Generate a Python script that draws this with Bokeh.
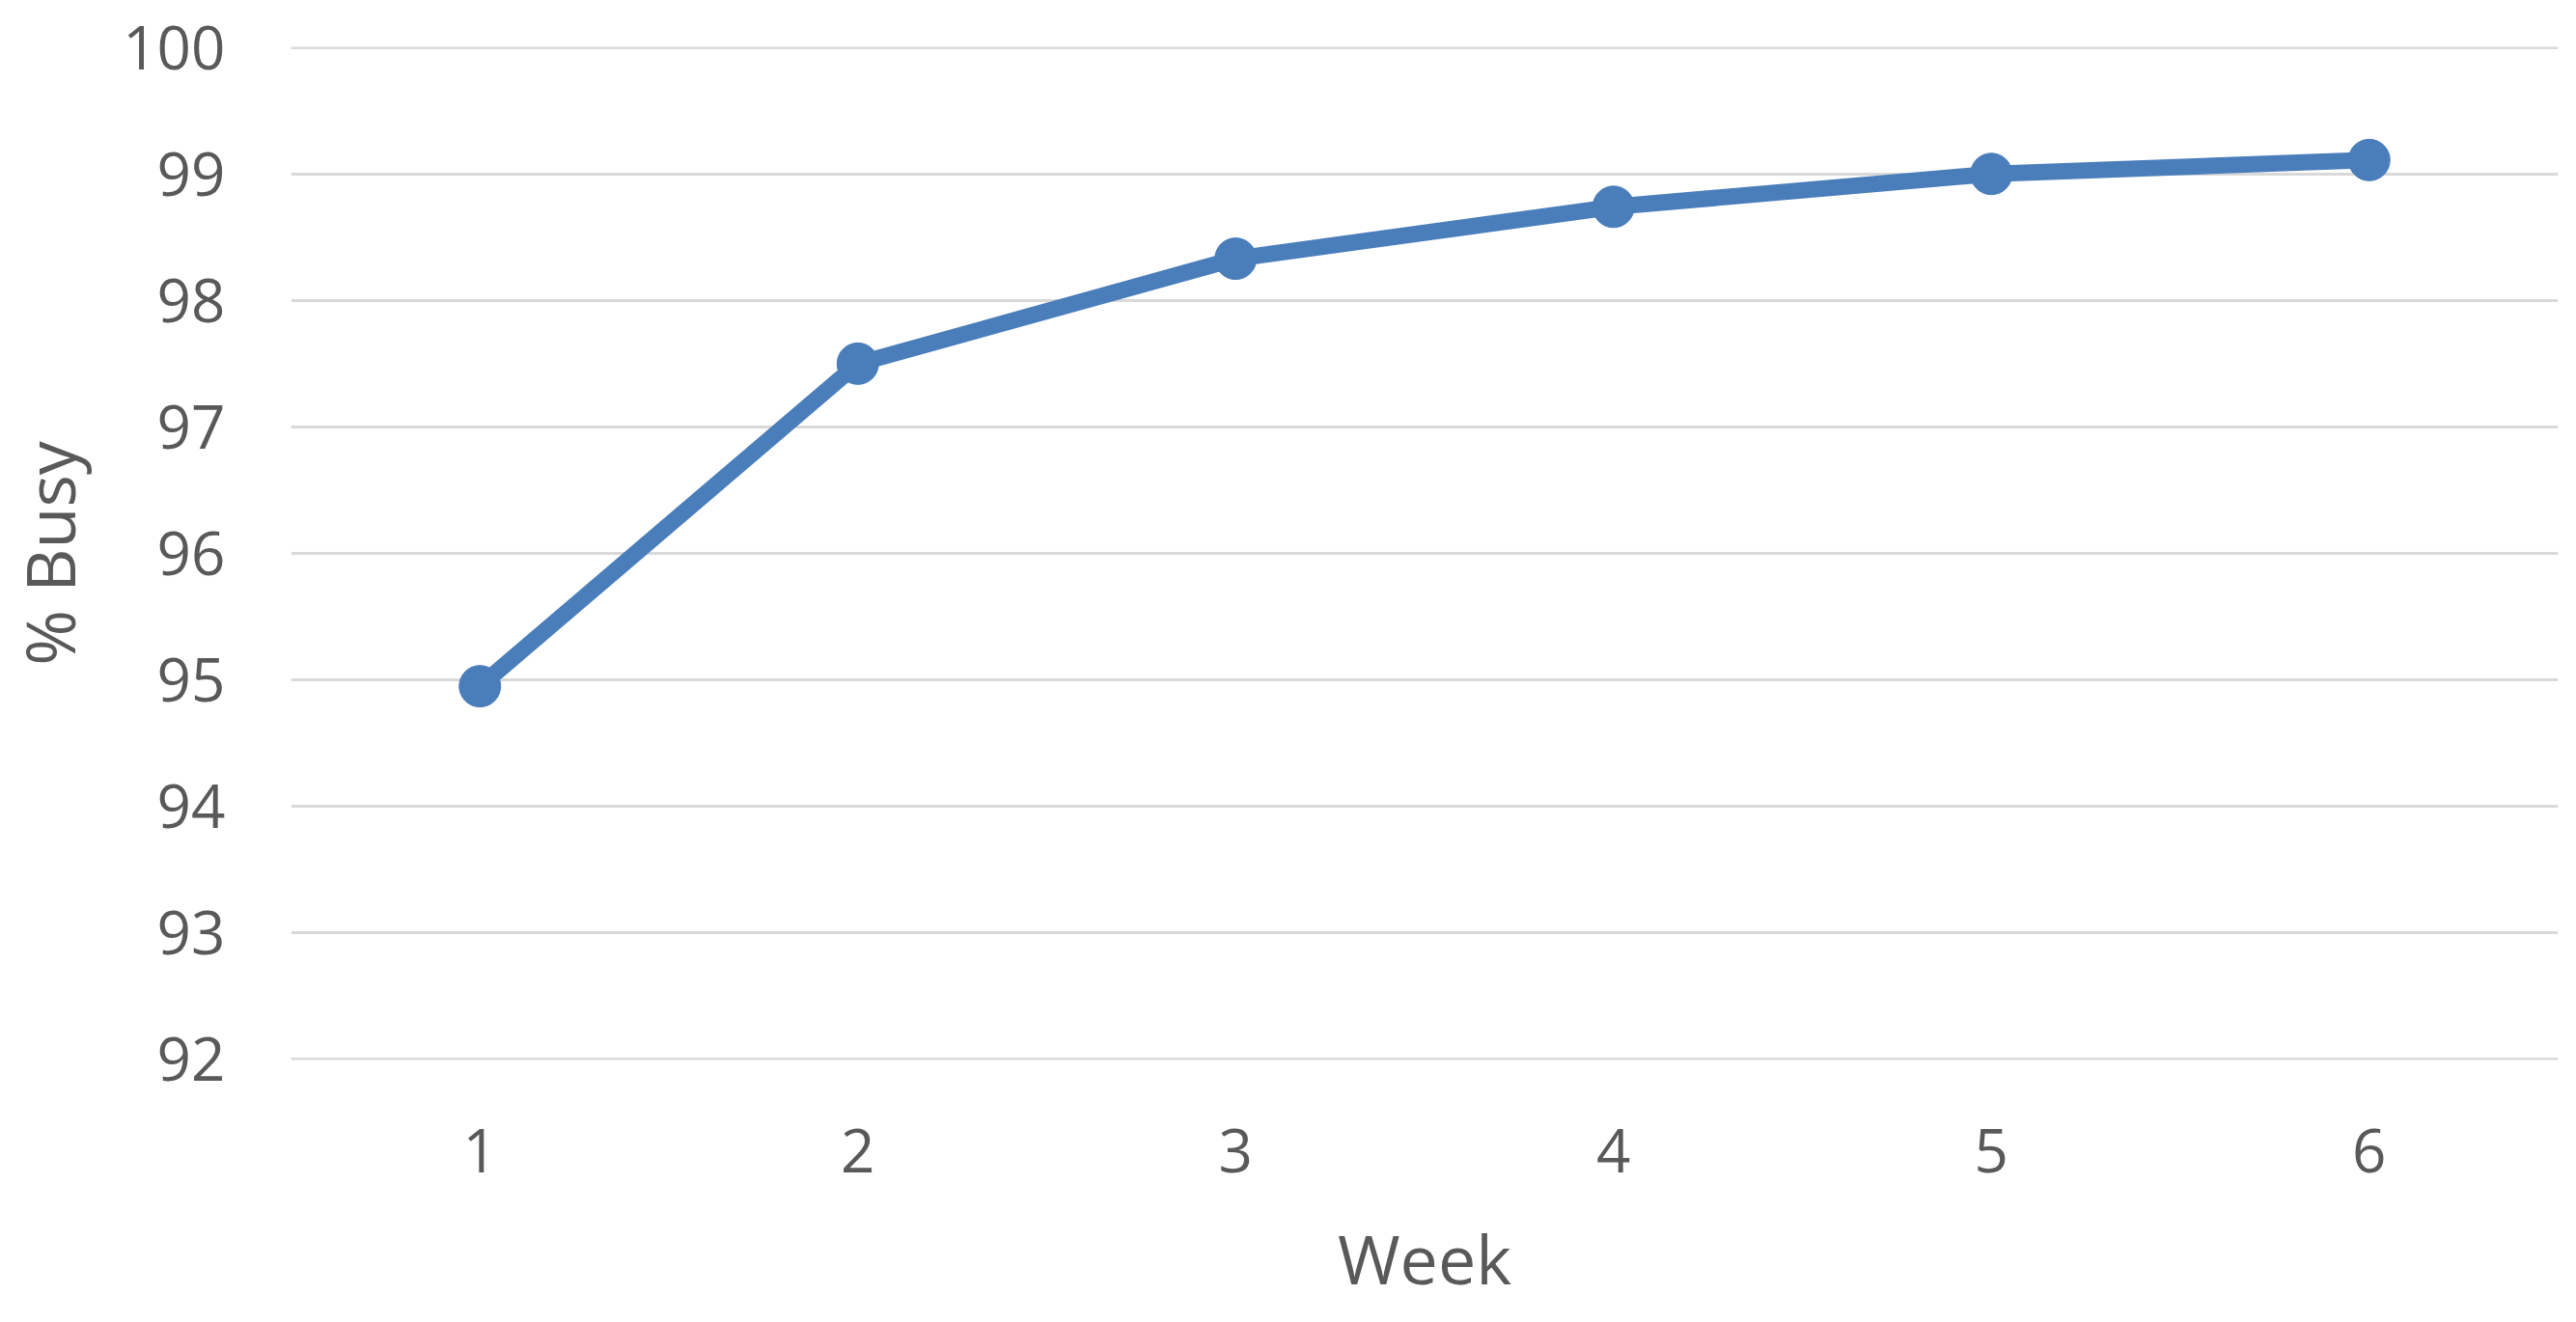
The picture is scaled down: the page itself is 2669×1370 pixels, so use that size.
from bokeh.plotting import figure
from bokeh.models import FixedTicker, Range1d
from bokeh.embed import file_html
from bokeh.resources import INLINE

weeks = [1, 2, 3, 4, 5, 6]
busy = [94.95, 97.5, 98.33, 98.74, 99.0, 99.11]
y_ticks = [92, 93, 94, 95, 96, 97, 98, 99, 100]

LINE = "#4A7EBB"
TXT = "#595959"
FONT = "Open Sans"

p = figure(width=2653, height=1354, output_backend="svg", toolbar_location=None,
           x_range=Range1d(0.5, 6.5), y_range=Range1d(91.995, 100.005),
           min_border_left=301, min_border_right=3, min_border_top=48, min_border_bottom=249)
p.outline_line_color = None
p.background_fill_color = "white"
p.border_fill_color = "white"

p.line(weeks, busy, line_color=LINE, line_width=17, line_join="round")
p.scatter(weeks, busy, size=43, fill_color=LINE, line_color=LINE)

p.xgrid.visible = False
p.ygrid.ticker = FixedTicker(ticks=y_ticks)
p.ygrid.grid_line_color = "#d9d9d9"
p.ygrid.grid_line_width = 3

for ax in (p.xaxis[0], p.yaxis[0]):
    ax.axis_line_color = None
    ax.major_tick_line_color = None
    ax.minor_tick_line_color = None
    ax.major_tick_out = 0
    ax.major_tick_in = 0
    ax.major_label_text_color = TXT
    ax.major_label_text_font = FONT
    ax.major_label_text_font_size = "62px"
    ax.axis_label_text_color = TXT
    ax.axis_label_text_font = FONT
    ax.axis_label_text_font_size = "70px"
    ax.axis_label_text_font_style = "normal"

p.xaxis.ticker = FixedTicker(ticks=weeks)
p.yaxis.ticker = FixedTicker(ticks=y_ticks)
p.xaxis.axis_label = "Week"
p.yaxis.axis_label = "% Busy"
p.xaxis.major_label_standoff = 71
p.yaxis.major_label_standoff = 68
p.xaxis.axis_label_standoff = 38
p.yaxis.axis_label_standoff = 25

open("out.html", "w").write(file_html(p, INLINE))
